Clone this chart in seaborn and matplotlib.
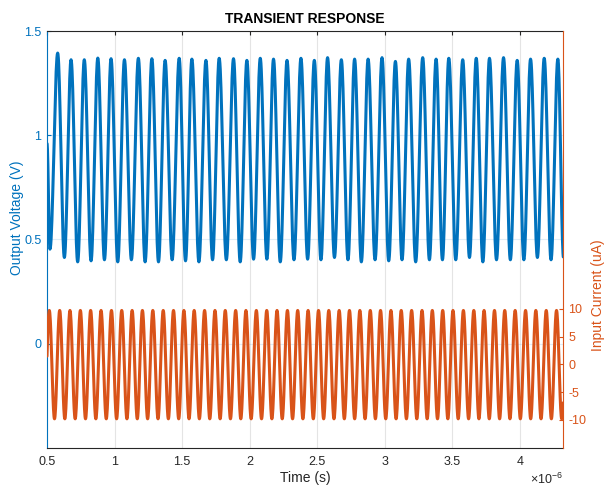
import numpy as np
import pandas as pd
import seaborn as sns
import matplotlib.pyplot as plt
from matplotlib.ticker import FixedLocator, FuncFormatter

# ---- data (time in microseconds) ----
x_lim = [0.5, 4.318]
x_ticks = [0.5, 1, 1.5, 2, 2.5, 3, 3.5, 4]
v_lim = [-0.5, 1.5]
v_ticks = [0, 0.5, 1, 1.5]
i_lim = [-15, 60]
i_ticks = [-10, -5, 0, 5, 10]

# output voltage: start point, first dip, peaks, troughs between peaks, end point
v_start = (0.500, 0.96)
v_first_dip = (0.522, 0.453)
v_end = (4.322, 0.41)
v_peak_t = [0.579, 0.678, 0.776, 0.876, 0.974, 1.073, 1.176, 1.276, 1.374, 1.478,
            1.572, 1.676, 1.774, 1.880, 1.979, 2.078, 2.176, 2.276, 2.379, 2.478,
            2.576, 2.678, 2.776, 2.876, 2.979, 3.078, 3.176, 3.280, 3.379, 3.473,
            3.576, 3.676, 3.774, 3.878, 3.979, 4.078, 4.179, 4.280]
v_peak_v = [1.394, 1.362, 1.362, 1.370, 1.367, 1.362, 1.369, 1.367, 1.359, 1.369,
            1.365, 1.359, 1.369, 1.367, 1.359, 1.369, 1.365, 1.359, 1.369, 1.359,
            1.372, 1.362, 1.365, 1.365, 1.372, 1.354, 1.365, 1.372, 1.365, 1.369,
            1.362, 1.369, 1.369, 1.372, 1.359, 1.365, 1.369, 1.365]
v_trough_v = [0.413, 0.392, 0.397, 0.402, 0.392, 0.402, 0.392, 0.392, 0.402, 0.397,
              0.392, 0.402, 0.402, 0.392, 0.405, 0.405, 0.392, 0.402, 0.405, 0.402,
              0.413, 0.402, 0.392, 0.402, 0.397, 0.402, 0.392, 0.402, 0.402, 0.402,
              0.413, 0.392, 0.402, 0.402, 0.402, 0.413, 0.402]

# input current: peaks (uA), trough level, ends
i_peak_t = [0.517, 0.594, 0.670, 0.747, 0.823, 0.900, 0.977, 1.053, 1.130, 1.206,
            1.283, 1.360, 1.436, 1.513, 1.589, 1.666, 1.743, 1.819, 1.896, 1.972,
            2.049, 2.126, 2.202, 2.279, 2.355, 2.432, 2.509, 2.585, 2.662, 2.738,
            2.815, 2.892, 2.968, 3.045, 3.121, 3.198, 3.275, 3.351, 3.428, 3.504,
            3.581, 3.658, 3.734, 3.811, 3.887, 3.964, 4.041, 4.117, 4.194, 4.270]
i_peak_v = 9.7
i_trough_v = -9.8
i_start = (0.479, -9.8)
i_end = (4.347, 9.7)

blue = '#0072BD'
orange = '#D95319'
dark = '#262626'


def trace(kt, kv, n=20):
    # smooth half-cosine between successive extrema
    ts, vs = [], []
    s = np.linspace(0, 1, n, endpoint=False)
    w = (1 - np.cos(np.pi * s)) / 2
    for k in range(len(kt) - 1):
        ts.append(kt[k] + (kt[k + 1] - kt[k]) * s)
        vs.append(kv[k] + (kv[k + 1] - kv[k]) * w)
    ts.append([kt[-1]])
    vs.append([kv[-1]])
    return np.concatenate(ts), np.concatenate(vs)


# knots for voltage
vt = [v_start[0], v_first_dip[0]]
vv = [v_start[1], v_first_dip[1]]
for k in range(len(v_peak_t)):
    vt.append(v_peak_t[k])
    vv.append(v_peak_v[k])
    if k < len(v_trough_v):
        vt.append((v_peak_t[k] + v_peak_t[k + 1]) / 2)
        vv.append(v_trough_v[k])
vt.append(v_end[0])
vv.append(v_end[1])

# knots for current
it = [i_start[0]]
iv = [i_start[1]]
for k in range(len(i_peak_t)):
    it.append(i_peak_t[k])
    iv.append(i_peak_v)
    if k < len(i_peak_t) - 1:
        it.append((i_peak_t[k] + i_peak_t[k + 1]) / 2)
        iv.append(i_trough_v)
it.append((i_peak_t[-1] + i_end[0]) / 2)
iv.append(i_trough_v)
it.append(i_end[0])
iv.append(i_end[1])

t1, y1 = trace(vt, vv)
t2, y2 = trace(it, iv)
df_v = pd.DataFrame({'t': t1, 'v': y1})
df_i = pd.DataFrame({'t': t2, 'i': y2})

sns.set_style("white")
plt.rcParams['font.family'] = ['Liberation Sans', 'DejaVu Sans']
plt.rcParams['mathtext.fontset'] = 'custom'
plt.rcParams['mathtext.rm'] = 'Liberation Sans'

fig = plt.figure(figsize=(6.06, 4.87), dpi=100)
ax = fig.add_axes([47 / 606, 1 - 447.7 / 487, (563 - 47) / 606, (447.7 - 31) / 487])
ax2 = ax.twinx()

sns.lineplot(data=df_v, x='t', y='v', ax=ax, color=blue, lw=2.2,
             estimator=None, sort=False)
sns.lineplot(data=df_i, x='t', y='i', ax=ax2, color=orange, lw=2.2,
             estimator=None, sort=False)

ax.set_xlim(x_lim)
ax.set_ylim(v_lim)
ax2.set_ylim(i_lim)
ax.xaxis.set_major_locator(FixedLocator(x_ticks))
ax.yaxis.set_major_locator(FixedLocator(v_ticks))
ax2.yaxis.set_major_locator(FixedLocator(i_ticks))
ax.xaxis.set_major_formatter(FuncFormatter(lambda x, p: f'{x:g}'))
ax.yaxis.set_major_formatter(FuncFormatter(lambda x, p: f'{x:g}'))
ax2.yaxis.set_major_formatter(FuncFormatter(lambda x, p: f'{x:g}'))

ax.grid(axis='x', color=dark, alpha=0.12, lw=0.8)
ax.grid(axis='y', color=blue, alpha=0.12, lw=0.8)

for sp in ['top', 'bottom']:
    ax.spines[sp].set_color(dark)
    ax.spines[sp].set_linewidth(0.8)
    ax2.spines[sp].set_visible(False)
ax.spines['left'].set_color(blue)
ax.spines['right'].set_visible(False)
ax2.spines['left'].set_visible(False)
ax2.spines['right'].set_color(orange)
ax.spines['left'].set_linewidth(0.8)
ax2.spines['right'].set_linewidth(0.8)

ax.tick_params(axis='x', direction='in', top=True, length=3, width=0.8,
               color=dark, labelcolor=dark, labelsize=9, pad=6)
ax.tick_params(axis='y', direction='in', length=3, width=0.8,
               color=blue, labelcolor=blue, labelsize=9, pad=4)
ax2.tick_params(axis='y', direction='in', length=3, width=0.8,
                color=orange, labelcolor=orange, labelsize=9, pad=4)

ax.set_xlabel('Time (s)', fontsize=10, color=dark, labelpad=2)
ax.set_ylabel('Output Voltage (V)', fontsize=10, color=blue, labelpad=0)
ax2.set_ylabel('Input Current (uA)', fontsize=10, color=orange, labelpad=3)
# labels sit off-centre in the reference
ax.yaxis.label.set_y(0.551)
ax2.yaxis.label.set_y(0.366)
ax.set_title('TRANSIENT RESPONSE', fontsize=10, fontweight='bold', color='black', pad=6)
ax.text(1.0, -0.075, r'$\times 10^{-6}$', transform=ax.transAxes, ha='right',
        va='center', fontsize=9, color=dark)

fig.savefig('out.png', dpi=100)
